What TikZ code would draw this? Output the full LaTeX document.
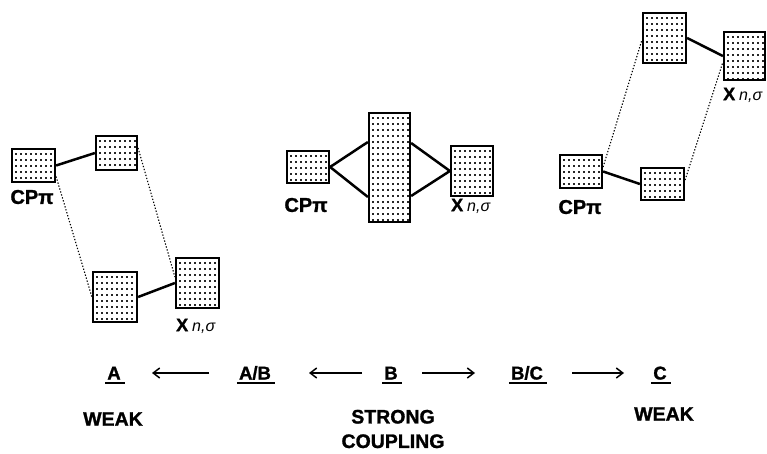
\documentclass[tikz,border=0pt]{standalone}
\usepackage{fontspec}
\setmainfont{Liberation Sans}
\newfontfamily\heavy[BoldFeatures={FakeBold=1.3}]{Liberation Sans}
\usetikzlibrary{arrows.meta}

\tikzset{
  dotrow/.style={line width=1.5pt, dash pattern=on 2pt off 3pt, black!85},
  orb/.style={draw, line width=2.2pt, inner sep=0pt, fill=white,
    path picture={
      \foreach \k in {1,...,20}{
        \draw[dotrow]
          ([xshift=3pt,yshift=-\k*6pt+1pt]path picture bounding box.north west) --
          ([xshift=-1pt,yshift=-\k*6pt+1pt]path picture bounding box.north east);
      }}},
  bond/.style={line width=2.5pt},
  weakbond/.style={line width=1.1pt, dash pattern=on 1.3pt off 1.8pt},
  cplab/.style={inner sep=0pt, font=\fontsize{20}{20}\selectfont\heavy\bfseries},
  xlab/.style={inner sep=0pt},
  caselab/.style={inner sep=0pt, text height=13pt, text depth=0pt,
    font=\fontsize{18.5}{18.5}\selectfont\heavy\bfseries},
  uline/.style={line width=2.2pt},
  regime/.style={inner sep=0pt, font=\fontsize{19.5}{19.5}\selectfont\heavy\bfseries},
  arr/.style={line width=1.5pt, -{Straight Barb[length=6.5pt,width=10pt,line width=1.5pt]}}
}
\newcommand\xns{{\fontsize{18}{18}\selectfont\heavy\bfseries X}\hspace{4pt}{\fontsize{16}{16}\selectfont\itshape n,σ}}

\begin{document}
\begin{tikzpicture}[x=1pt,y=-1pt]
  \useasboundingbox (0,0) rectangle (767,454);

  % --- case A: weak coupling, CP pi lying low ---
  \node[orb, minimum width=43pt, minimum height=33pt] (Lcp) at (33.5,165.5) {};
  \node[orb, minimum width=41pt, minimum height=34pt] (Lup) at (116.5,153) {};
  \node[orb, minimum width=44pt, minimum height=50pt] (Llo) at (115,297) {};
  \node[orb, minimum width=43pt, minimum height=50pt] (Lx)  at (197.5,283) {};
  \draw[bond] (Lcp.east) -- (Lup.west);
  \draw[bond] (Llo.east) -- (Lx.west);
  \draw[weakbond] ([yshift=-11pt]Lcp.east) -- (Llo.west);
  \draw[weakbond] ([yshift=5pt]Lup.east) -- ([yshift=6pt]Lx.west);
  \node[cplab] (Lcpt) at (32,197) {CPπ};
  \node[xlab, anchor=west] (Lxt) at (176,326) {\xns};

  % --- case B: strong coupling ---
  \node[orb, minimum width=42pt, minimum height=32pt] (Mcp)  at (308,167) {};
  \node[orb, minimum width=41pt, minimum height=109pt] (Mmid) at (389.5,167.5) {};
  \node[orb, minimum width=42pt, minimum height=50pt] (Mx)   at (472,171) {};
  \draw[bond] (Mcp.east) -- ([yshift=25.5pt]Mmid.west);
  \draw[bond] (Mcp.east) -- ([yshift=-29.5pt]Mmid.west);
  \draw[bond] (Mx.west) -- ([yshift=24.5pt]Mmid.east);
  \draw[bond] (Mx.west) -- ([yshift=-28.5pt]Mmid.east);
  \node[cplab] (Mcpt) at (306,205) {CPπ};
  \node[xlab, anchor=west] (Mxt) at (451,206) {\xns};

  % --- case C: weak coupling, X lying low ---
  \node[orb, minimum width=43pt, minimum height=50pt] (Rup) at (664.5,38) {};
  \node[orb, minimum width=41pt, minimum height=48pt] (Rx)  at (744.5,56) {};
  \node[orb, minimum width=42pt, minimum height=33pt] (Rcp) at (581,171.5) {};
  \node[orb, minimum width=43pt, minimum height=32pt] (Rlo) at (662.5,184) {};
  \draw[bond] (Rcp.east) -- (Rlo.west);
  \draw[bond] (Rup.east) -- (Rx.west);
  \draw[weakbond] ([yshift=4.5pt]Rcp.east) -- ([yshift=-2pt]Rup.west);
  \draw[weakbond] ([yshift=4pt]Rlo.east) -- ([yshift=-6pt]Rx.west);
  \node[cplab] (Rcpt) at (580,207) {CPπ};
  \node[xlab, anchor=west] (Rxt) at (723,95) {\xns};

  % --- coupling scale ---
  \node[caselab] (A)  at (114,373) {A};
  \node[caselab] (AB) at (255,373) {A/B};
  \node[caselab] (B)  at (391,373) {B};
  \node[caselab] (BC) at (527,373) {B/C};
  \node[caselab] (C)  at (660,373) {C};
  \foreach \n in {A,AB,B,BC,C}
    \draw[uline] ([xshift=-2pt,yshift=-3.5pt]\n.south west) -- ([xshift=4pt,yshift=-3.5pt]\n.south east);

  \draw[arr, shorten <=46pt, shorten >=38pt] (AB.center) -- (A.center);
  \draw[arr, shorten <=29pt, shorten >=54pt] (B.center) -- (AB.center);
  \draw[arr, shorten <=31pt, shorten >=52pt] (B.center) -- (BC.center);
  \draw[arr, shorten <=45pt, shorten >=36pt] (BC.center) -- (C.center);

  \node[regime] (wA) at (113,419) {WEAK};
  \node[regime, align=center] (sB) at (393,429) {STRONG\\[5pt]COUPLING};
  \node[regime] (wC) at (664,414) {WEAK};
\end{tikzpicture}
\end{document}
